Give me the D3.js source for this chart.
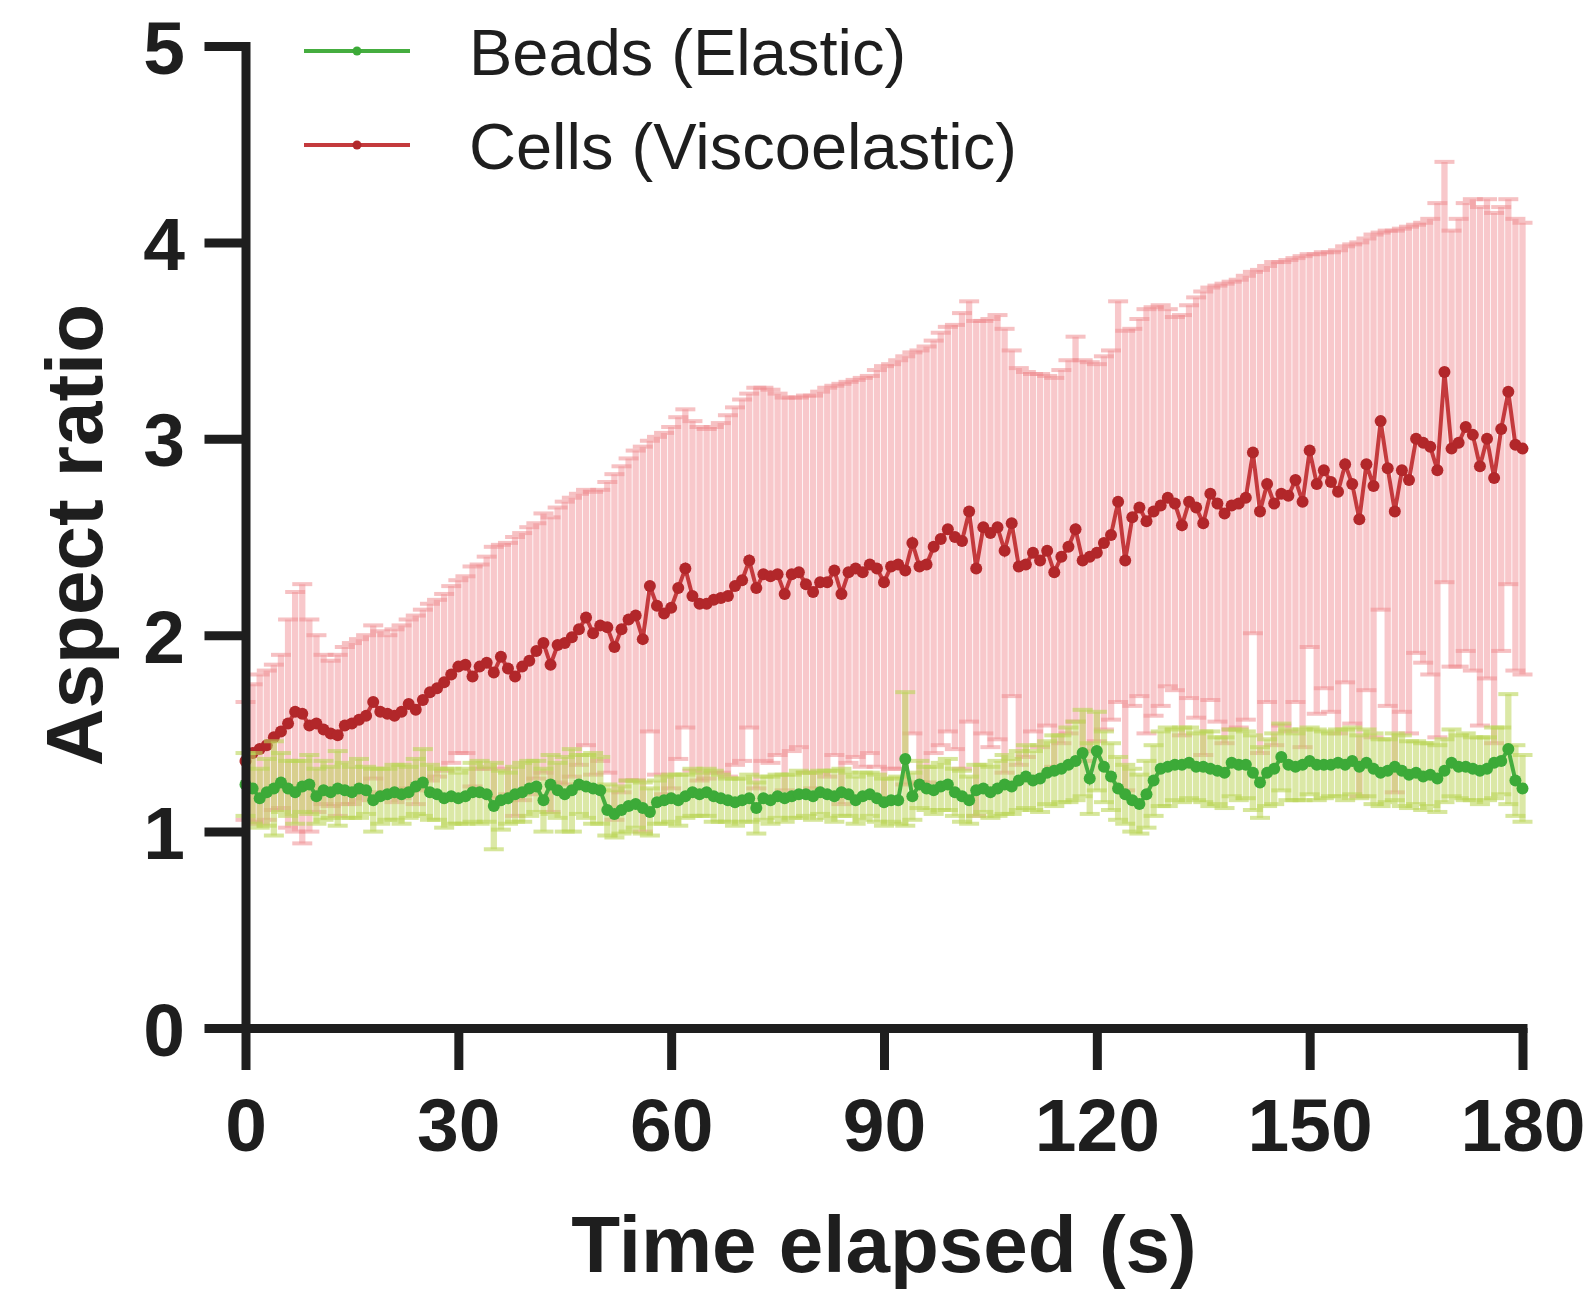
<!DOCTYPE html>
<html lang="en">
<head>
<meta charset="UTF-8">
<title>Aspect ratio over time</title>
<script src="https://cdn.jsdelivr.net/npm/d3@7"></script>
<style>
  html, body { margin: 0; padding: 0; background: #fff; }
  svg { display: block; }
  text { font-family: "Liberation Sans", Arial, Helvetica, sans-serif; fill: #1e1e1e; }
  .axis .domain, .axis .tick line { stroke: #1e1e1e; stroke-width: 9; }
  .axis .domain { stroke-linecap: square; }
  .axis .tick text { font-size: 75px; font-weight: bold; fill: #1e1e1e; }
  .axis-title { font-size: 80px; font-weight: bold; }
  .legend text { font-size: 65px; }
</style>
</head>
<body>
<svg id="chart"></svg>
<script>
// time grid, one sample per second
const time = d3.range(0, 181)

const xTicks = [0, 30, 60, 90, 120, 150, 180]
const yTicks = [0, 1, 2, 3, 4, 5]

// Cells (Viscoelastic): mean aspect ratio and SD
const redMean = [
  1.36,1.40,1.42,1.44,1.48,1.51,1.55,1.61,1.60,1.54,
  1.55,1.52,1.50,1.49,1.54,1.55,1.57,1.59,1.66,1.61,
  1.60,1.59,1.61,1.65,1.62,1.67,1.71,1.73,1.76,1.80,
  1.84,1.85,1.79,1.84,1.86,1.81,1.89,1.83,1.79,1.84,
  1.87,1.92,1.96,1.85,1.95,1.96,1.99,2.03,2.09,2.01,
  2.05,2.04,1.94,2.03,2.08,2.10,1.98,2.25,2.15,2.11,
  2.14,2.24,2.34,2.20,2.16,2.16,2.18,2.19,2.20,2.25,
  2.28,2.38,2.24,2.31,2.30,2.31,2.21,2.31,2.32,2.26,
  2.22,2.27,2.27,2.33,2.21,2.32,2.34,2.32,2.36,2.34,
  2.27,2.35,2.36,2.33,2.47,2.35,2.36,2.45,2.49,2.54,
  2.50,2.48,2.63,2.34,2.55,2.52,2.55,2.43,2.57,2.35,
  2.36,2.42,2.38,2.43,2.32,2.40,2.45,2.54,2.38,2.40,
  2.42,2.47,2.51,2.68,2.38,2.60,2.65,2.58,2.63,2.66,
  2.70,2.67,2.56,2.68,2.65,2.57,2.72,2.67,2.62,2.66,
  2.67,2.70,2.93,2.63,2.77,2.67,2.72,2.71,2.79,2.68,
  2.94,2.77,2.84,2.78,2.73,2.87,2.77,2.59,2.87,2.76,
  3.09,2.85,2.63,2.84,2.79,3.00,2.98,2.96,2.84,3.34,
  2.95,2.98,3.06,3.02,2.86,3.00,2.80,3.05,3.24,2.97,
  2.95
]
const redSd = [
  0.30,0.35,0.38,0.38,0.37,0.39,0.53,0.61,0.66,0.54,
  0.45,0.38,0.37,0.41,0.40,0.41,0.41,0.41,0.39,0.41,
  0.40,0.44,0.44,0.43,0.48,0.46,0.45,0.45,0.45,0.45,
  0.44,0.45,0.56,0.52,0.54,0.64,0.57,0.64,0.71,0.68,
  0.68,0.65,0.66,0.75,0.70,0.72,0.71,0.69,0.65,0.72,
  0.69,0.74,0.88,0.83,0.82,0.84,0.98,0.74,0.86,0.92,
  0.92,0.87,0.81,0.89,0.90,0.89,0.88,0.89,0.92,0.91,
  0.92,0.85,1.02,0.95,0.95,0.92,1.00,0.90,0.89,0.96,
  1.00,0.97,0.99,0.94,1.07,0.97,0.96,0.99,0.96,1.01,
  1.10,1.03,1.04,1.09,0.97,1.10,1.11,1.05,1.05,1.03,
  1.08,1.16,1.07,1.26,1.05,1.09,1.08,1.13,0.88,1.01,
  0.98,0.91,0.95,0.89,0.99,0.95,0.95,0.98,1.02,0.99,
  0.96,0.95,0.94,1.02,1.17,0.96,0.96,1.08,1.04,1.02,
  0.96,0.95,1.07,1.00,1.07,1.18,1.05,1.11,1.17,1.14,
  1.14,1.13,0.92,1.23,1.11,1.23,1.18,1.20,1.13,1.25,
  1.00,1.17,1.11,1.17,1.23,1.11,1.22,1.41,1.15,1.28,
  0.96,1.21,1.43,1.23,1.29,1.09,1.12,1.16,1.36,1.07,
  1.11,1.14,1.14,1.20,1.32,1.22,1.35,1.13,0.98,1.15,
  1.15
]

// Beads (Elastic): mean aspect ratio and SD
const greenMean = [
  1.24,1.22,1.17,1.20,1.22,1.25,1.22,1.20,1.23,1.24,
  1.18,1.21,1.20,1.22,1.21,1.20,1.22,1.21,1.16,1.18,
  1.19,1.20,1.19,1.20,1.23,1.25,1.20,1.19,1.17,1.18,
  1.17,1.18,1.20,1.20,1.19,1.13,1.16,1.17,1.19,1.20,
  1.22,1.23,1.16,1.24,1.21,1.19,1.21,1.24,1.23,1.22,
  1.21,1.11,1.09,1.11,1.13,1.14,1.12,1.10,1.15,1.16,
  1.17,1.16,1.18,1.20,1.19,1.20,1.18,1.17,1.16,1.15,
  1.16,1.17,1.12,1.17,1.16,1.18,1.17,1.18,1.19,1.19,
  1.18,1.20,1.19,1.18,1.20,1.19,1.16,1.18,1.19,1.17,
  1.15,1.16,1.16,1.37,1.18,1.24,1.22,1.21,1.23,1.24,
  1.20,1.18,1.16,1.21,1.22,1.20,1.22,1.24,1.23,1.26,
  1.28,1.26,1.27,1.30,1.31,1.32,1.34,1.36,1.40,1.27,
  1.41,1.33,1.28,1.22,1.19,1.16,1.14,1.19,1.26,1.32,
  1.33,1.34,1.34,1.35,1.33,1.33,1.32,1.31,1.30,1.35,
  1.34,1.34,1.30,1.25,1.30,1.32,1.38,1.34,1.33,1.34,
  1.36,1.34,1.34,1.34,1.35,1.34,1.36,1.33,1.35,1.32,
  1.30,1.31,1.33,1.31,1.29,1.30,1.28,1.29,1.27,1.31,
  1.35,1.33,1.33,1.32,1.31,1.32,1.35,1.36,1.42,1.26,
  1.22
]
const greenSd = [
  0.16,0.18,0.15,0.17,0.24,0.15,0.14,0.16,0.13,0.15,
  0.14,0.15,0.13,0.19,0.14,0.13,0.15,0.12,0.16,0.14,
  0.13,0.14,0.15,0.13,0.14,0.17,0.14,0.13,0.15,0.14,
  0.13,0.14,0.15,0.16,0.14,0.22,0.15,0.13,0.14,0.15,
  0.14,0.13,0.16,0.15,0.14,0.19,0.21,0.15,0.16,0.18,
  0.17,0.13,0.12,0.12,0.13,0.12,0.13,0.12,0.11,0.12,
  0.12,0.13,0.11,0.12,0.11,0.12,0.13,0.12,0.11,0.12,
  0.11,0.12,0.13,0.11,0.12,0.11,0.12,0.11,0.12,0.11,
  0.12,0.11,0.12,0.13,0.12,0.11,0.12,0.12,0.11,0.12,
  0.12,0.11,0.12,0.34,0.12,0.12,0.11,0.12,0.12,0.13,
  0.12,0.13,0.12,0.13,0.12,0.13,0.14,0.15,0.14,0.15,
  0.16,0.15,0.17,0.16,0.18,0.17,0.19,0.20,0.22,0.18,
  0.20,0.18,0.17,0.16,0.15,0.16,0.15,0.17,0.18,0.19,
  0.20,0.18,0.19,0.18,0.17,0.18,0.19,0.17,0.18,0.17,
  0.18,0.17,0.19,0.18,0.17,0.18,0.17,0.18,0.17,0.18,
  0.17,0.18,0.17,0.16,0.17,0.18,0.17,0.16,0.17,0.18,
  0.17,0.16,0.17,0.18,0.17,0.16,0.17,0.16,0.17,0.16,
  0.17,0.16,0.17,0.16,0.17,0.16,0.18,0.17,0.28,0.18,
  0.17
]

const W = 1589
const H = 1293
const margin = { top: 46, left: 245.5, right: 66.5, bottom: 265 }

const svg = d3.select('#chart')
  .attr('width', W)
  .attr('height', H)

const xScale = d3.scaleLinear()
  .domain([0, 180])
  .range([margin.left, W - margin.right])

const yScale = d3.scaleLinear()
  .domain([0, 5])
  .range([H - margin.bottom, margin.top])

const series = [
  { name: 'Cells (Viscoelastic)', mean: redMean, sd: redSd,
    bar: '#f0868b', barOpacity: 0.45, cap: '#ef8e92', capOpacity: 0.55,
    line: '#c43a3d', dot: '#b2272a' },
  { name: 'Beads (Elastic)', mean: greenMean, sd: greenSd,
    bar: '#bdd65c', barOpacity: 0.55, cap: '#bad559', capOpacity: 0.6,
    line: '#45ad3f', dot: '#3caa38' }
]

const CAP = 20

// error bars, line, dots - red first so the beads sit on top
series.forEach(s => {
  const pts = time.map((t, i) => ({ t, m: s.mean[i], sd: s.sd[i] }))
  const g = svg.append('g')

  g.append('g')
    .selectAll('line')
    .data(pts)
    .join('line')
    .attr('x1', d => xScale(d.t))
    .attr('x2', d => xScale(d.t))
    .attr('y1', d => yScale(d.m - d.sd))
    .attr('y2', d => yScale(d.m + d.sd))
    .attr('stroke', s.bar)
    .attr('stroke-opacity', s.barOpacity)
    .attr('stroke-width', 6.3)

  const caps = g.append('g')
  ;[-1, 1].forEach(sign => {
    caps.append('g')
      .selectAll('line')
      .data(pts)
      .join('line')
      .attr('x1', d => xScale(d.t) - CAP / 2)
      .attr('x2', d => xScale(d.t) + CAP / 2)
      .attr('y1', d => yScale(d.m + sign * d.sd))
      .attr('y2', d => yScale(d.m + sign * d.sd))
      .attr('stroke', s.cap)
      .attr('stroke-opacity', s.capOpacity)
      .attr('stroke-width', 4)
  })

  const line = d3.line()
    .x(d => xScale(d.t))
    .y(d => yScale(d.m))

  g.append('path')
    .datum(pts)
    .attr('d', line)
    .attr('fill', 'none')
    .attr('stroke', s.line)
    .attr('stroke-width', 4)

  g.append('g')
    .selectAll('circle')
    .data(pts)
    .join('circle')
    .attr('cx', d => xScale(d.t))
    .attr('cy', d => yScale(d.m))
    .attr('r', 6)
    .attr('fill', s.dot)
})

// axes
const xAxis = d3.axisBottom(xScale)
  .tickValues(xTicks)
  .tickFormat(d3.format('d'))
  .tickSize(42)
  .tickSizeOuter(0)
  .tickPadding(28)

svg.append('g')
  .attr('class', 'axis')
  .attr('transform', `translate(0, ${yScale(0)})`)
  .call(xAxis)
  .selectAll('.tick text')
  .attr('dy', '0.71em')

const yAxis = d3.axisLeft(yScale)
  .tickValues(yTicks)
  .tickFormat(d3.format('d'))
  .tickSize(41)
  .tickSizeOuter(0)
  .tickPadding(19.5)

svg.append('g')
  .attr('class', 'axis')
  .attr('transform', `translate(${xScale(0)}, 0)`)
  .call(yAxis)
  .selectAll('.tick text')
  .attr('dy', '0.36em')

// axis titles
svg.append('text')
  .attr('class', 'axis-title')
  .attr('text-anchor', 'middle')
  .attr('transform', `translate(102, ${yScale(2.5) - 2}) rotate(-90)`)
  .text('Aspect ratio')

svg.append('text')
  .attr('class', 'axis-title')
  .attr('text-anchor', 'middle')
  .attr('x', 884)
  .attr('y', 1272)
  .text('Time elapsed (s)')

// legend
const legendItems = [series[1], series[0]]
const legend = svg.append('g')
  .attr('class', 'legend')

legendItems.forEach((s, i) => {
  const cy = 51 + i * 94
  legend.append('line')
    .attr('x1', 304)
    .attr('x2', 410)
    .attr('y1', cy)
    .attr('y2', cy)
    .attr('stroke', s.line)
    .attr('stroke-width', 4)
  legend.append('circle')
    .attr('cx', 357)
    .attr('cy', cy)
    .attr('r', 4.5)
    .attr('fill', s.dot)
  legend.append('text')
    .attr('x', 469)
    .attr('y', cy + 24)
    .text(s.name)
})
</script>
</body>
</html>
